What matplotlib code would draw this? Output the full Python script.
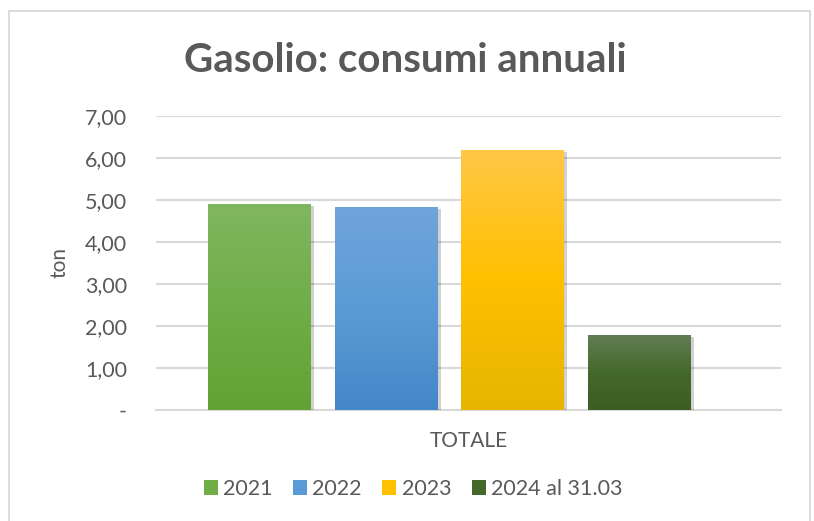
import matplotlib
matplotlib.use("Agg")
import matplotlib.pyplot as plt
import numpy as np
from matplotlib.colors import LinearSegmentedColormap
from matplotlib.patches import Patch, Rectangle
import matplotlib.patheffects as pe

# ---- data ----
series = ["2021", "2022", "2023", "2024 al 31.03"]
values = [4.90, 4.83, 6.18, 1.78]
category = ["TOTALE"]
yticks = [0, 1, 2, 3, 4, 5, 6, 7]
yticklabels = ["-", "1,00", "2,00", "3,00", "4,00", "5,00", "6,00", "7,00"]

# gradient colours (top, middle, bottom) per series
grad_colors = [
    ["#80b660", "#70ad47", "#62a234"],
    ["#70a4dc", "#5b9bd5", "#4487c8"],
    ["#ffc746", "#ffc000", "#e6b500"],
    ["#627d54", "#44692b", "#3b5e22"],
]
legend_colors = ["#70ad47", "#5b9bd5", "#ffc000", "#43682a"]

TXT = "#595959"
GRID = "#d9d9d9"
plt.rcParams["font.family"] = ["Lato", "DejaVu Sans"]

fig = plt.figure(figsize=(8.14, 5.21), dpi=100)
fig.patch.set_facecolor("white")

# outer chart border
fig.add_artist(Rectangle((9 / 814, -0.05), (810 - 9) / 814, 1.05 - 11 / 521,
                         transform=fig.transFigure, fill=False,
                         edgecolor=GRID, linewidth=1.3))

ax = fig.add_axes([156 / 814, 111 / 521, (780.7 - 156) / 814, (410 - 115.7) / 521])
ax.set_ylim(0, 7)
half = 2.469
ax.set_xlim(-half, half)

width = 0.814
shift = -0.148
n = len(series)
for i, (v, cols) in enumerate(zip(values, grad_colors)):
    x = (i - (n - 1) / 2) + shift
    bars = ax.bar(x, v, width=width, color=cols[1], zorder=3, linewidth=0)
    p = bars[0]
    p.set_path_effects([pe.SimplePatchShadow(offset=(2, -1.5), shadow_rgbFace="#000000",
                                             alpha=0.18), pe.Normal()])
    cmap = LinearSegmentedColormap.from_list("g%d" % i, cols[::-1])
    grad = np.linspace(0, 1, 256).reshape(-1, 1)
    im = ax.imshow(grad, cmap=cmap, aspect="auto", origin="lower",
                   extent=(x - width / 2, x + width / 2, 0, v), zorder=4)
    im.set_clip_path(p)

ax.set_xlim(-half, half)
ax.set_ylim(0, 7)

for s in ["top", "right", "left"]:
    ax.spines[s].set_visible(False)
ax.spines["bottom"].set_color(GRID)
ax.spines["bottom"].set_linewidth(1.5)
ax.spines["bottom"].set_zorder(2)

ax.set_yticks(yticks)
ax.set_yticklabels(yticklabels)
ax.yaxis.grid(True, color=GRID, linewidth=1.5, zorder=0)
ax.set_axisbelow(True)
ax.tick_params(axis="y", length=0, pad=21, labelsize=15.5, labelcolor=TXT)
ax.set_xticks([0])
ax.set_xticklabels(category)
ax.tick_params(axis="x", length=0, pad=15, labelsize=15, labelcolor=TXT)

fig.text(59 / 814, 1 - 263 / 521, "ton", rotation=90, ha="center", va="center",
         fontsize=15, color=TXT)

fig.text(405 / 814, 1 - 60 / 521, "Gasolio: consumi annuali", ha="center", va="center",
         fontsize=29, fontweight="bold", color=TXT)

handles = [Patch(facecolor=c, edgecolor="none") for c in legend_colors]
fig.legend(handles, series, loc="center", bbox_to_anchor=(413 / 814, 1 - 489 / 521),
           ncol=4, frameon=False, fontsize=15.5, labelcolor=TXT,
           handlelength=0.65, handleheight=0.65, handletextpad=0.25, columnspacing=0.95)

fig.savefig("out.png", dpi=100, facecolor="white")
